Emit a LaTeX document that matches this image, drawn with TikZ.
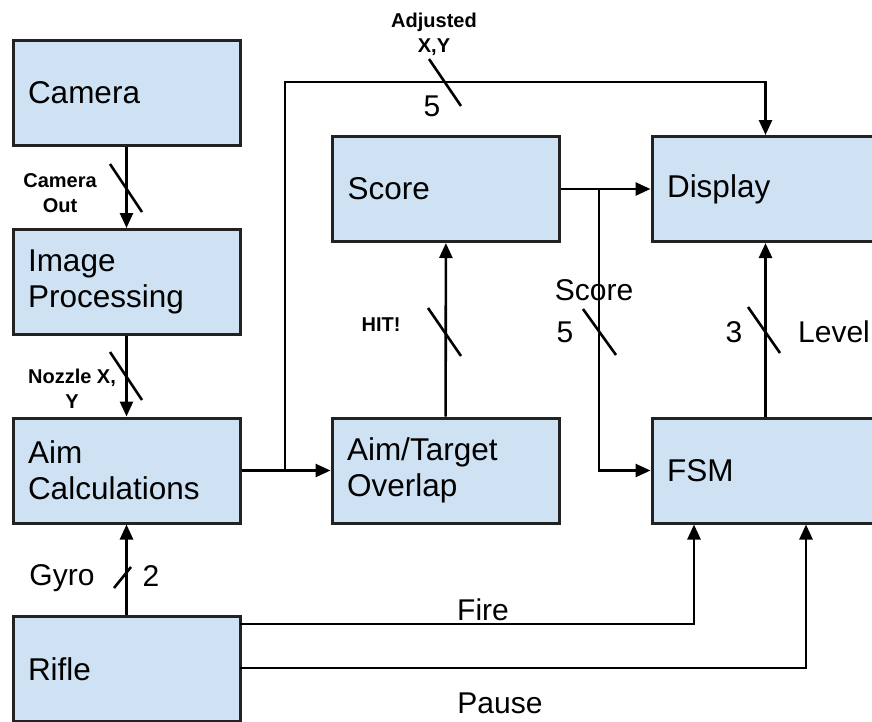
\documentclass[tikz,border=0pt]{standalone}
\usepackage{fontspec}
\setmainfont{Liberation Sans}
\usepackage{xcolor}
\usepackage{tikz}
\usetikzlibrary{arrows.meta}

\definecolor{boxfill}{HTML}{CFE2F3}
\definecolor{boxline}{HTML}{222222}

\tikzset{
    block/.style={rectangle,draw=boxline,fill=boxfill,line width=3pt,
        minimum width=227pt,minimum height=105pt,text width=197pt,
        inner xsep=15pt,align=left,font=\fontsize{31.5}{36}\selectfont},
    sig/.style={line width=2.6pt,-{Triangle[length=15pt,width=13pt]}},
    tick/.style={line width=2.6pt},
    lbl/.style={font=\fontsize{30}{34}\selectfont,inner sep=0pt},
    tag/.style={font=\bfseries\fontsize{20}{25}\selectfont,align=center,inner sep=0pt}
}

\begin{document}
\begin{tikzpicture}[x=1pt,y=-1pt]
    \useasboundingbox (0,0) rectangle (872,721);
    \clip (0,0) rectangle (872,721);

    % blocks
    \node[block] (cam) at (126.5,92.5) {Camera};
    \node[block] (imgp) at (126.5,282) {Image\\Processing};
    \node[block] (aim) at (126.5,470.5) {Aim\\Calculations};
    \node[block] (rifle) at (126.5,669) {Rifle};
    \node[block] (score) at (446,189) {Score};
    \node[block] (ovl) at (445.5,470.5) {Aim/Target\\Overlap};
    \node[block] (disp) at (765.5,189) {Display};
    \node[block] (fsm) at (765.5,470.5) {FSM};

    % connectors
    \draw[sig] (cam) -- (imgp);
    \draw[sig] (imgp) -- (aim);
    \draw[sig] (rifle) -- (aim);
    \draw[sig] (aim) -- (ovl);
    \coordinate (adjtap) at (285,470);
    \coordinate (adjtop) at (285,82);
    \draw[sig] (adjtap) -- (adjtop) -| (disp.north);
    \draw[sig] (ovl) -- (score);
    \draw[sig] (score) -- (disp);
    \coordinate (sctap) at (599,189);
    \draw[sig] (sctap) |- (fsm.west);
    \draw[sig] (fsm) -- (disp);
    \coordinate (firestart) at (240,624);
    \coordinate (pausestart) at (240,668);
    \draw[sig] (firestart) -| ([xshift=-71.5pt]fsm.south);
    \draw[sig] (pausestart) -| ([xshift=40.5pt]fsm.south);

    % bus slashes
    \draw[tick] (110,164) -- (142,212);
    \draw[tick] (110,352) -- (142,400);
    \draw[tick] (429,59) -- (461,106);
    \draw[tick] (428,308) -- (461,356);
    \draw[tick] (583,309) -- (616,355);
    \draw[tick] (748,307) -- (780,353);
    \draw[tick] (114,588) -- (131,567);

    % labels
    \node[tag] (camout) at (60,193) {Camera\\Out};
    \node[tag] (nozxy) at (72,389) {Nozzle X,\\Y};
    \node[tag] (adjxy) at (434,34) {Adjusted\\X,Y};
    \node[lbl] (adjw) at (432,106) {5};
    \node[tag] (hit) at (381,325) {HIT!};
    \node[lbl] (scorel) at (594,290) {Score};
    \node[lbl] (scorew) at (565,332) {5};
    \node[lbl] (levw) at (734,332) {3};
    \node[lbl] (levl) at (834,332) {Level};
    \node[lbl] (gyrol) at (62,578) {Gyro};
    \node[lbl] (gyrow) at (151,576) {2};
    \node[lbl] (firel) at (483,610) {Fire};
    \node[lbl] (pausel) at (500,703) {Pause};
\end{tikzpicture}
\end{document}
